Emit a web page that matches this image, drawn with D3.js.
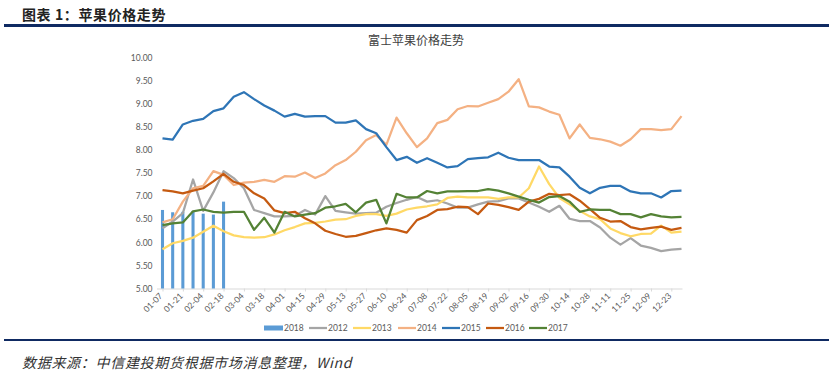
<!DOCTYPE html>
<html>
<head>
<meta charset="utf-8">
<script src="https://cdn.jsdelivr.net/npm/d3@7/dist/d3.min.js"></script>
<style>
  body { margin: 0; background: #fff; }
  svg { display: block; }
</style>
</head>
<body>
<div id="chart"></div>
<script>
// week labels (x categories)
const weeks = ['01-07','01-14','01-21','01-28','02-04','02-11','02-18','02-25','03-04','03-11',
  '03-18','03-25','04-01','04-08','04-15','04-22','04-29','05-06','05-13','05-20','05-27','06-03',
  '06-10','06-17','06-24','07-01','07-08','07-15','07-22','07-29','08-05','08-12','08-19','08-26',
  '09-02','09-09','09-16','09-23','09-30','10-07','10-14','10-21','10-28','11-04','11-11','11-18',
  '11-25','12-02','12-09','12-16','12-23','12-30'];
const yTicks = [5, 5.5, 6, 6.5, 7, 7.5, 8, 8.5, 9, 9.5, 10];

const v2018 = [6.70, 6.65, 6.66, 6.68, 6.62, 6.60, 6.88];
const v2012 = [6.30, 6.45, 6.63, 7.36, 6.68, 7.08, 7.54, 7.39, 7.17, 6.70, 6.63, 6.56, 6.56, 6.57, 6.70,
  6.60, 7.00, 6.68, 6.65, 6.62, 6.63, 6.64, 6.77, 6.85, 6.92, 6.98, 6.88, 6.91, 6.84, 6.75, 6.75, 6.82,
  6.88, 6.89, 6.95, 6.95, 6.86, 6.77, 6.66, 6.79, 6.51, 6.46, 6.46, 6.32, 6.10, 5.95, 6.09, 5.93, 5.88,
  5.81, 5.84, 5.86];
const v2013 = [5.85, 5.98, 6.03, 6.10, 6.23, 6.36, 6.24, 6.15, 6.11, 6.10, 6.11, 6.17, 6.26, 6.33, 6.41,
  6.42, 6.45, 6.49, 6.50, 6.57, 6.61, 6.61, 6.57, 6.62, 6.71, 6.75, 6.78, 6.82, 6.96, 6.99, 6.97, 6.97,
  6.97, 6.94, 6.97, 6.97, 7.17, 7.64, 7.26, 6.96, 6.82, 6.68, 6.56, 6.50, 6.30, 6.20, 6.13, 6.18, 6.19,
  6.36, 6.21, 6.23];
const v2014 = [6.43, 6.50, 6.88, 7.17, 7.22, 7.54, 7.46, 7.24, 7.29, 7.31, 7.35, 7.31, 7.43, 7.42, 7.51,
  7.39, 7.49, 7.67, 7.78, 7.96, 8.21, 8.32, 8.11, 8.70, 8.36, 8.06, 8.25, 8.58, 8.65, 8.88, 8.95, 8.94,
  9.02, 9.10, 9.26, 9.53, 8.94, 8.92, 8.83, 8.76, 8.25, 8.55, 8.26, 8.23, 8.18, 8.09, 8.23, 8.45, 8.45,
  8.43, 8.45, 8.73];
const v2015 = [8.25, 8.22, 8.55, 8.63, 8.67, 8.84, 8.90, 9.15, 9.25, 9.10, 8.96, 8.85, 8.72, 8.78, 8.72,
  8.73, 8.73, 8.59, 8.59, 8.64, 8.45, 8.36, 8.06, 7.78, 7.85, 7.72, 7.82, 7.72, 7.62, 7.65, 7.80, 7.82,
  7.84, 7.94, 7.83, 7.78, 7.78, 7.78, 7.64, 7.62, 7.42, 7.18, 7.06, 7.18, 7.22, 7.22, 7.10, 7.06, 7.06,
  6.97, 7.11, 7.12];
const v2016 = [7.13, 7.10, 7.06, 7.12, 7.17, 7.32, 7.48, 7.31, 7.24, 7.06, 6.95, 6.69, 6.63, 6.66, 6.52,
  6.41, 6.25, 6.18, 6.12, 6.14, 6.20, 6.26, 6.30, 6.27, 6.21, 6.48, 6.57, 6.70, 6.72, 6.77, 6.76, 6.61,
  6.84, 6.81, 6.76, 6.70, 6.88, 6.94, 7.05, 7.02, 7.04, 6.90, 6.72, 6.53, 6.45, 6.46, 6.33, 6.28, 6.31,
  6.34, 6.27, 6.31];
const v2017 = [6.37, 6.41, 6.43, 6.67, 6.71, 6.66, 6.64, 6.66, 6.66, 6.27, 6.53, 6.21, 6.66, 6.56, 6.60,
  6.63, 6.75, 6.78, 6.83, 6.65, 6.86, 6.92, 6.41, 7.05, 6.97, 6.97, 7.11, 7.06, 7.10, 7.10, 7.11, 7.11,
  7.15, 7.12, 7.06, 6.99, 6.92, 6.86, 6.98, 7.00, 6.88, 6.66, 6.71, 6.70, 6.70, 6.61, 6.61, 6.54, 6.61,
  6.56, 6.54, 6.55];

const lineSeries = [
  {name: '2012', values: v2012, color: '#A5A5A5'},
  {name: '2013', values: v2013, color: '#FFD966'},
  {name: '2014', values: v2014, color: '#F4B183'},
  {name: '2015', values: v2015, color: '#2E75B6'},
  {name: '2016', values: v2016, color: '#C55A11'},
  {name: '2017', values: v2017, color: '#548235'}
];
const barColor = '#5B9BD5';
const navy = '#0F2A62';

const width = 833, height = 386;
const margin = {top: 57.5, right: 151.5, bottom: 97.5, left: 162.5};

let svg = d3.select('#chart')
            .append('svg')
            .attr('width', width)
            .attr('height', height);

// page header
svg.append('text')
   .attr('x', 22)
   .attr('y', 20)
   .attr('font-family', '"Noto Sans CJK SC", sans-serif')
   .attr('font-size', '14px')
   .attr('font-weight', 'bold')
   .attr('letter-spacing', '0.6px')
   .attr('fill', '#222')
   .text('图表 1：苹果价格走势');

svg.append('rect')
   .attr('x', 4).attr('y', 24)
   .attr('width', 825).attr('height', 3)
   .attr('fill', navy);

svg.append('rect')
   .attr('x', 4).attr('y', 339)
   .attr('width', 825).attr('height', 2)
   .attr('fill', navy);

svg.append('text')
   .attr('x', 22)
   .attr('y', 368)
   .attr('font-family', '"Noto Sans CJK SC", sans-serif')
   .attr('font-size', '14px')
   .attr('font-style', 'italic')
   .attr('letter-spacing', '0.7px')
   .attr('fill', '#333')
   .text('数据来源：中信建投期货根据市场消息整理，Wind');

// chart title
svg.append('text')
   .attr('x', 416)
   .attr('y', 45)
   .attr('text-anchor', 'middle')
   .attr('font-family', '"Noto Sans CJK SC", sans-serif')
   .attr('font-size', '12px')
   .attr('fill', '#404040')
   .text('富士苹果价格走势');

let x = d3.scalePoint()
          .domain(weeks)
          .range([margin.left, width - margin.right]);

let y = d3.scaleLinear()
          .domain([5, 10])
          .range([height - margin.bottom, margin.top]);

// y axis (labels only)
let yAxis = svg.append('g')
               .attr('transform', 'translate(' + (margin.left - 7) + ',0)')
               .call(d3.axisLeft(y).tickValues(yTicks).tickFormat(d3.format('.2f')).tickSize(0));
yAxis.select('.domain').remove();
yAxis.selectAll('text')
     .attr('font-family', 'Lato, sans-serif')
     .attr('font-size', '8.5px')
     .attr('fill', '#595959')
     .attr('dx', 0);

// x axis
let xAxis = svg.append('g')
               .attr('transform', 'translate(0,' + (height - margin.bottom) + ')')
               .call(d3.axisBottom(x)
                       .tickValues(weeks.filter((d, i) => i % 2 === 0))
                       .tickSize(3)
                       .tickSizeOuter(0));
xAxis.select('.domain')
     .attr('stroke', '#D9D9D9')
     .attr('d', 'M' + (margin.left - 5.5) + ',0.5H' + (width - margin.right + 1));
xAxis.selectAll('.tick line').attr('stroke', '#D9D9D9');
xAxis.selectAll('.tick text')
     .attr('font-family', 'Lato, sans-serif')
     .attr('font-size', '8.5px')
     .attr('fill', '#595959')
     .attr('text-anchor', 'end')
     .attr('transform', 'translate(-2,6) rotate(-45)')
     .attr('dy', '0.35em')
     .attr('y', 0);

// 2018 bars
let bw = x.step() * 0.3;
svg.selectAll('rect.bar')
   .data(v2018)
   .enter().append('rect')
   .attr('class', 'bar')
   .attr('x', (d, i) => x(weeks[i]) - bw / 2)
   .attr('y', d => y(d))
   .attr('width', bw)
   .attr('height', d => y(5) - y(d))
   .attr('fill', barColor);

// lines
let line = d3.line()
             .x((d, i) => x(weeks[i]))
             .y(d => y(d));

lineSeries.forEach(s => {
  svg.append('path')
     .datum(s.values)
     .attr('d', line)
     .attr('fill', 'none')
     .attr('stroke', s.color)
     .attr('stroke-width', 2.25)
     .attr('stroke-linejoin', 'round');
});

// legend
let legendX = [264, 309, 353, 398, 442, 486, 529];
let legendY = 328;
let leg = svg.append('g')
             .attr('font-family', 'Lato, sans-serif')
             .attr('font-size', '8.5px')
             .attr('fill', '#595959');

leg.append('rect')
   .attr('x', legendX[0]).attr('y', legendY - 2.5)
   .attr('width', 19).attr('height', 5)
   .attr('fill', barColor);
leg.append('text')
   .attr('x', legendX[0] + 20).attr('y', legendY + 3)
   .text('2018');

lineSeries.forEach((s, i) => {
  let lx = legendX[i + 1];
  leg.append('line')
     .attr('x1', lx).attr('x2', lx + 18)
     .attr('y1', legendY).attr('y2', legendY)
     .attr('stroke', s.color)
     .attr('stroke-width', 2.25);
  leg.append('text')
     .attr('x', lx + 19).attr('y', legendY + 3)
     .text(s.name);
});
</script>
</body>
</html>
